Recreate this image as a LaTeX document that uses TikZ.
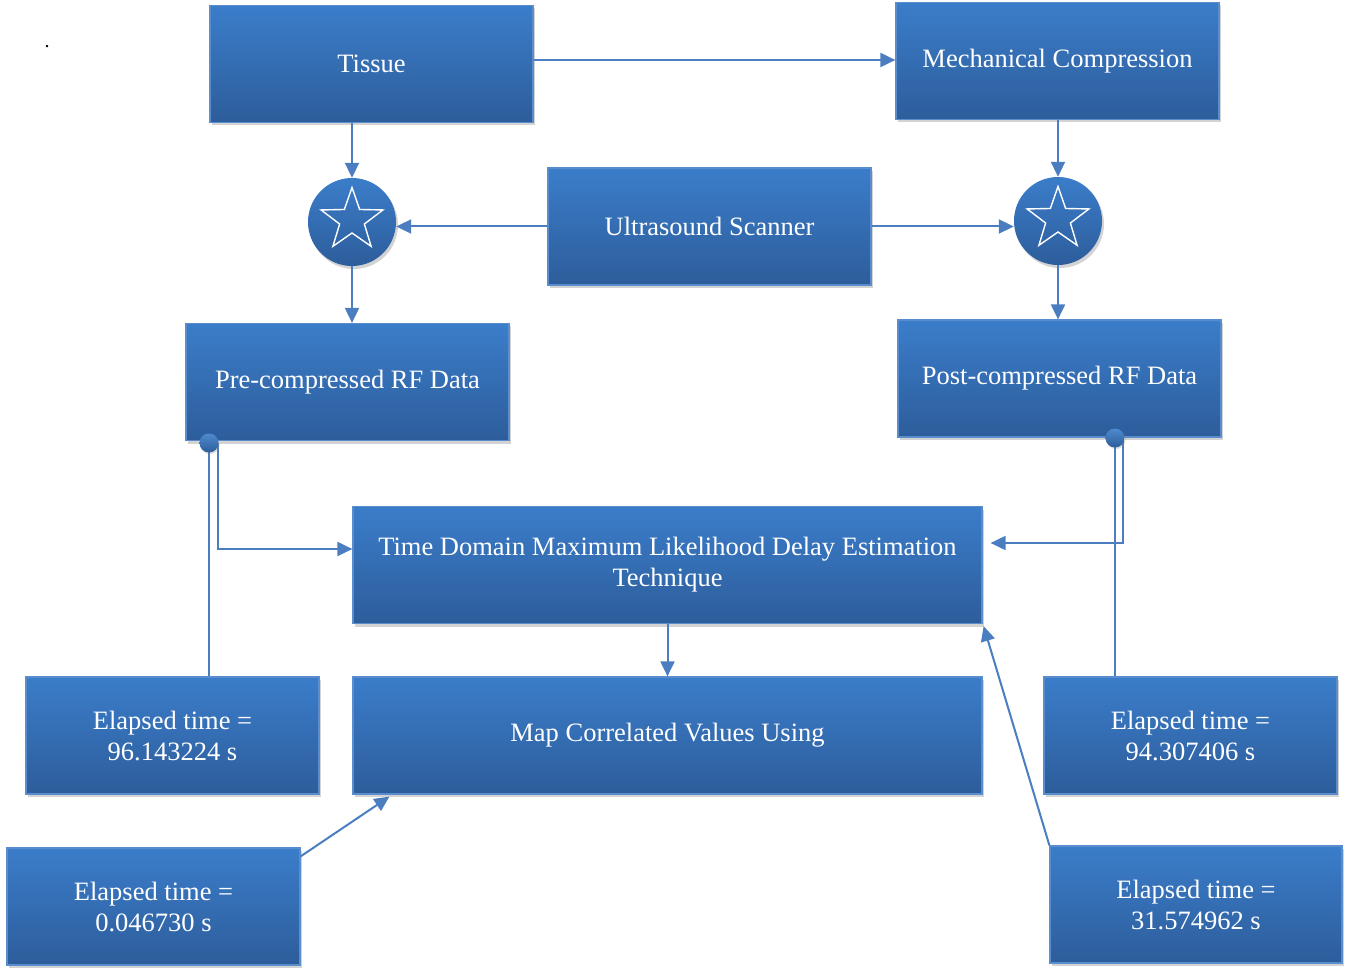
\documentclass[tikz,border=0pt]{standalone}
\usepackage{fontspec}
\setmainfont{Liberation Serif}
\usetikzlibrary{arrows.meta,shapes.geometric,shadows,calc}
\definecolor{boxtop}{HTML}{3B7DCA}
\definecolor{boxbot}{HTML}{2D5D9B}
\definecolor{boxedge}{HTML}{5A8DCD}
\definecolor{linec}{HTML}{4A7EC0}
\begin{document}
\begin{tikzpicture}[x=1pt,y=1pt,
  blockbox/.style={rectangle, top color=boxtop, bottom color=boxbot, draw=boxedge,
    line width=1.2pt, text=white, font=\fontsize{26.5}{31}\selectfont, align=center,
    minimum width=#1, minimum height=117pt, inner sep=0pt,
    drop shadow={shadow xshift=2pt,shadow yshift=-3pt,opacity=0.35}},
  blockbox/.default=323pt,
  hub/.style={circle, top color=boxtop, bottom color=boxbot, draw=none, minimum size=88pt,
    inner sep=0pt, drop shadow={shadow xshift=2pt,shadow yshift=-3pt,opacity=0.35}},
  starmark/.style={star, star points=5, star point ratio=2.5, draw=white, line width=1.4pt,
    minimum size=65pt, inner sep=0pt},
  dotn/.style={circle, top color=boxtop!90!white, bottom color=boxbot, minimum size=19pt, inner sep=0pt,
    drop shadow={shadow xshift=1pt,shadow yshift=-1.5pt,opacity=0.3}},
  conn/.style={draw=linec, line width=2pt, -{Triangle[length=15pt,width=14pt]}},
  plain/.style={draw=linec, line width=2pt}
]
\useasboundingbox (0,0) rectangle (1347,-968);

\node[font=\fontsize{20}{20}\selectfont] (mark) at (47,-47) {.};

\node[blockbox] (tissue) at (371.5,-64) {Tissue};
\node[blockbox] (mech) at (1057.5,-61) {Mechanical Compression};
\node[blockbox] (us) at (709.5,-226.5) {Ultrasound Scanner};
\node[hub] (starL) at (352,-222) {};
\node[starmark] (starLs) at (352,-220) {};
\node[hub] (starR) at (1058,-221) {};
\node[starmark] (starRs) at (1058,-219) {};
\node[blockbox] (pre) at (347.5,-382) {Pre-compressed RF Data};
\node[blockbox] (post) at (1059.5,-378.5) {Post-compressed RF Data};
\node[blockbox=629pt] (tdm) at (667.5,-565) {Time Domain Maximum Likelihood Delay Estimation\\Technique};
\node[blockbox=629pt] (map) at (667.5,-735.5) {Map Correlated Values Using};
\node[blockbox=293pt] (e96) at (172.5,-735.5) {Elapsed time =\\96.143224 s};
\node[blockbox=293pt] (e94) at (1190.5,-735.5) {Elapsed time =\\94.307406 s};
\node[blockbox=293pt] (e004) at (153.5,-906.5) {Elapsed time =\\0.046730 s};
\node[blockbox=292pt] (e31) at (1196,-904.5) {Elapsed time =\\31.574962 s};

\coordinate (predot) at (209,-443);
\coordinate (postdot) at (1115,-438);

\draw[conn] (tissue.east |- 0,-60) -- (mech.west |- 0,-60);
\draw[conn] (starL.north |- tissue.south) -- (starL.north);
\draw[conn] (starR.north |- mech.south) -- (starR.north);
\draw[conn] (us.west) -- (us.west -| starL.east);
\draw[conn] (us.east) -- (us.east -| starR.west);
\draw[conn] (starL.south) -- (starL.south |- pre.north);
\draw[conn] (starR.south) -- (starR.south |- post.north);

\draw[plain] (predot) -- (predot |- e96.north);
\draw[conn] ($(predot)+(9,0)$) |- ($(tdm.west)+(0,16)$);
\draw[plain] (postdot) -- (postdot |- e94.north);
\draw[conn] ($(postdot)+(8,0)$) |- ($(tdm.east)+(8,22)$);

\draw[conn] (tdm.south) -- (map.north);
\draw[conn] ($(e004.north east)+(0,-9)$) -- ($(map.south west)+(37,-2)$);
\draw[conn] (e31.north west) -- ($(tdm.south east)+(1,-2)$);

\node[dotn] (predotn) at (predot) {};
\node[dotn] (postdotn) at (postdot) {};
\end{tikzpicture}
\end{document}
